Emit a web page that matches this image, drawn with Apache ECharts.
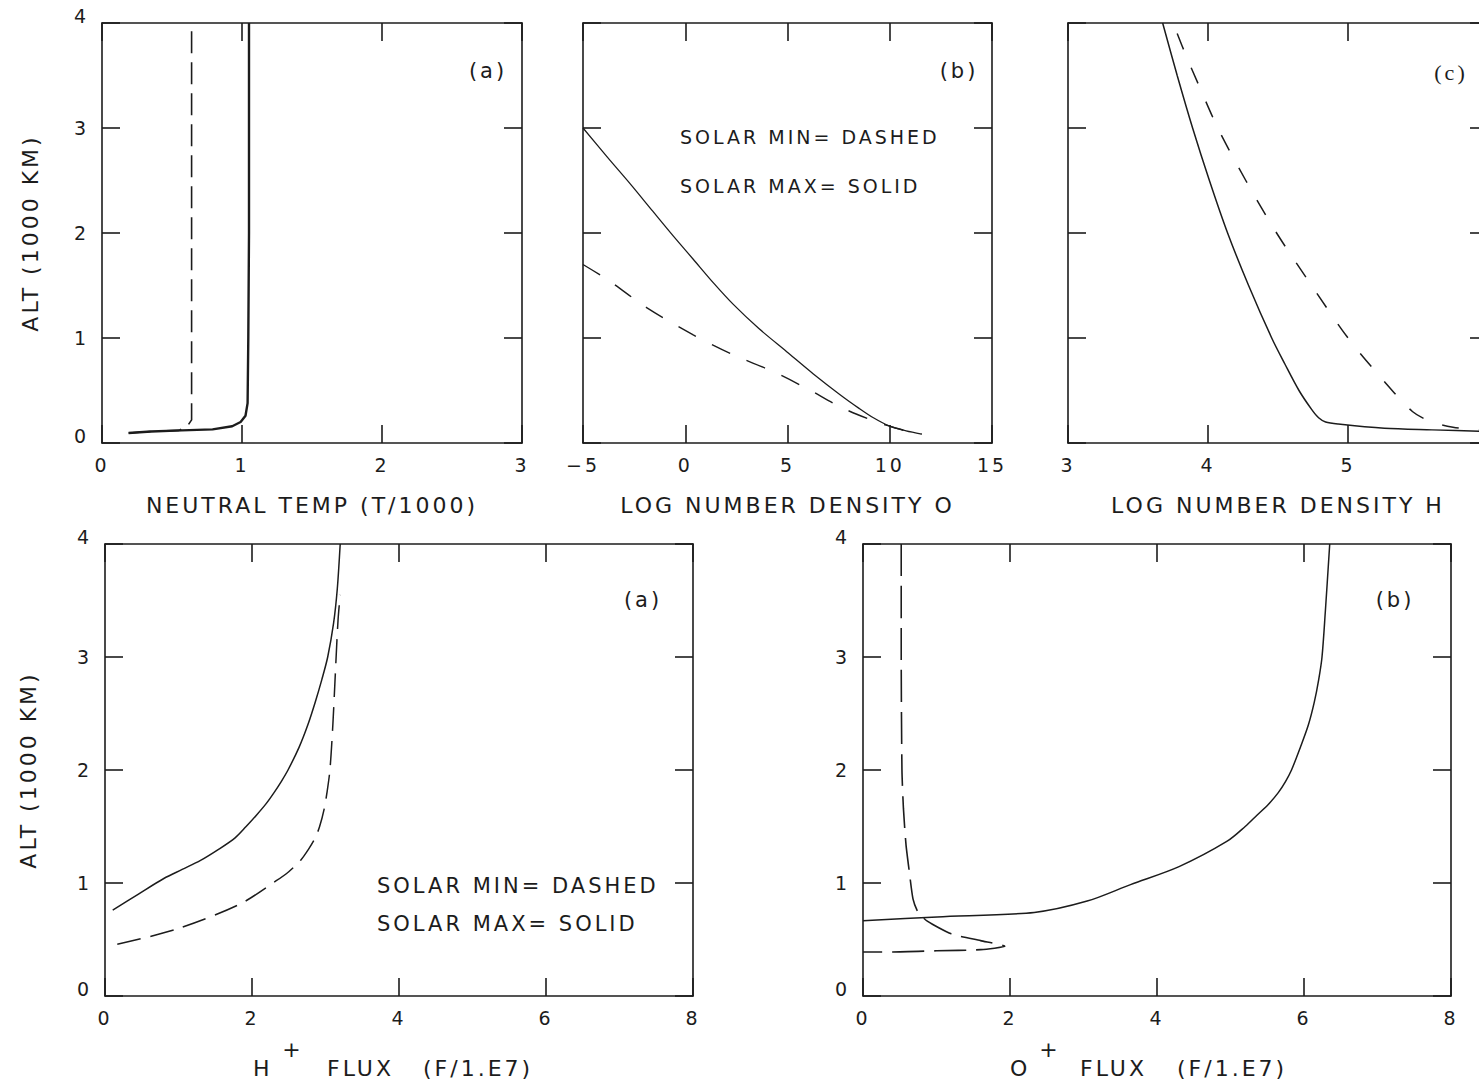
<!DOCTYPE html>
<html>
<head>
<meta charset="utf-8">
<script src="https://cdn.jsdelivr.net/npm/echarts@6/dist/echarts.min.js"></script>
<style>
  html, body { margin: 0; padding: 0; background: #fff; }
  #chart { width: 1479px; height: 1085px; }
  /* wide plotter-style lettering */
  #chart text { letter-spacing: 3px; }
</style>
</head>
<body>
<div id="chart"></div>
<script>
// Altitude profiles of the upper atmosphere: solar minimum (dashed) vs solar maximum (solid)

// ---- tick labels ----
const altTicks   = ['0', '1', '2', '3', '4'];
const tempTicks  = ['0', '1', '2', '3'];
const oDensTicks = ['\u22125', '0', '5', '10', '15'];
const hDensTicks = ['3', '4', '5', '6'];
const fluxTicks  = ['0', '2', '4', '6', '8'];

// ---- (a) neutral temperature, T/1000 vs altitude (1000 km) ----
const tempMax = [[0.19,0.095],[0.35,0.11],[0.57,0.12],[0.79,0.13],[0.93,0.16],[0.99,0.2],[1.025,0.26],[1.04,0.38],[1.045,1.0],[1.05,2.0],[1.05,3.0],[1.05,4.0]];
const tempMin = [[0.19,0.095],[0.35,0.11],[0.55,0.12],[0.61,0.16],[0.64,0.22],[0.64,1.0],[0.64,2.0],[0.64,3.0],[0.64,4.0]];

// ---- (b) log number density of O ----
const oDensMax = [[-5,3.0],[-3.8,2.72],[-2.7,2.47],[-1.6,2.21],[-0.58,1.97],[0.39,1.75],[1.4,1.52],[2.35,1.32],[3.6,1.09],[4.96,0.87],[6.25,0.66],[7.57,0.46],[8.5,0.33],[9.2,0.24],[10.0,0.16],[10.8,0.115],[11.56,0.085]];
const oDensMin = [[-5,1.7],[-3.76,1.55],[-1.89,1.29],[0.39,1.03],[2.35,0.84],[4.3,0.68],[5.94,0.52],[7.73,0.33],[9.36,0.2],[10.0,0.16],[10.8,0.115],[11.56,0.085]];

// ---- (c) log number density of H ----
const hDensMax = [[3.676,4.0],[3.78,3.5],[3.89,3.0],[4.01,2.5],[4.14,2.0],[4.29,1.5],[4.455,1.0],[4.55,0.75],[4.65,0.5],[4.74,0.32],[4.79,0.24],[4.84,0.2],[4.93,0.18],[5.26,0.14],[5.6,0.125],[6.0,0.11]];
const hDensMin = [[3.78,3.9],[3.84,3.7],[3.93,3.42],[4.07,3.0],[4.27,2.5],[4.49,2.0],[4.74,1.5],[5.0,1.0],[5.25,0.6],[5.46,0.3],[5.6,0.2],[5.75,0.15],[5.9,0.13],[6.0,0.12]];

// ---- H+ flux (F/1.E7) ----
const hFluxMax = [[0.105,0.76],[0.45,0.9],[0.8,1.04],[1.05,1.12],[1.3,1.2],[1.55,1.3],[1.77,1.4],[1.92,1.5],[2.06,1.6],[2.19,1.7],[2.3,1.8],[2.4,1.9],[2.49,2.0],[2.64,2.2],[2.76,2.4],[2.86,2.6],[2.95,2.8],[3.03,3.0],[3.11,3.3],[3.16,3.6],[3.2,4.0]];
const hFluxMin = [[0.167,0.458],[0.95,0.587],[1.825,0.81],[2.33,1.02],[2.5,1.1],[2.66,1.2],[2.77,1.3],[2.86,1.4],[2.92,1.5],[2.98,1.65],[3.02,1.8],[3.06,2.0],[3.1,2.4],[3.13,2.8],[3.17,3.32],[3.2,3.55]];

// ---- O+ flux (F/1.E7) ----
const oFluxMax = [[0,0.666],[1.01,0.7],[2.33,0.74],[3.05,0.84],[3.64,0.986],[4.3,1.145],[4.955,1.37],[5.2,1.5],[5.36,1.6],[5.52,1.7],[5.65,1.8],[5.75,1.9],[5.83,2.0],[5.95,2.2],[6.06,2.4],[6.14,2.6],[6.2,2.8],[6.245,3.0],[6.29,3.4],[6.35,4.0]];
const oFluxMin = [[0.52,4.0],[0.52,3.0],[0.53,2.0],[0.55,1.66],[0.585,1.34],[0.63,1.1],[0.68,0.86],[0.75,0.74],[0.88,0.66],[1.2,0.55],[1.6,0.49],[1.93,0.44],[1.6,0.41],[1.0,0.4],[0.4,0.39],[0.0,0.39]];

const INK = '#1c1c1c';
const FONT = 'DejaVu Sans';

function tickText(ticks, min, step) {
  return function (v) {
    const t = ticks[Math.round((v - min) / step)];
    return t === undefined ? '' : t;
  };
}

const panels = [
  { grid: { left: 102, top: 23, width: 420, height: 420 },
    x: { min: 0, max: 3, step: 1, ticks: tempTicks, name: 'NEUTRAL TEMP (T/1000)' },
    yLabels: true, yName: 'ALT (1000 KM)', yNameGap: 61, xNameGap: 51,
    series: [
      { data: tempMax, width: 2.4, dash: 'solid', smooth: false },
      { data: tempMin, width: 1.6, dash: [22, 9], smooth: false } ] },
  { grid: { left: 583, top: 23, width: 409, height: 420 },
    x: { min: -5, max: 15, step: 5, ticks: oDensTicks, name: 'LOG NUMBER DENSITY O' },
    yLabels: false, xNameGap: 51,
    series: [
      { data: oDensMax, width: 1.3, dash: 'solid', smooth: 0.3 },
      { data: oDensMin, width: 1.4, dash: [20, 18], smooth: 0.3 } ] },
  { grid: { left: 1068, top: 23, width: 420, height: 420 },
    x: { min: 3, max: 6, step: 1, ticks: hDensTicks, name: 'LOG NUMBER DENSITY H' },
    yLabels: false, xNameGap: 51,
    series: [
      { data: hDensMax, width: 1.5, dash: 'solid', smooth: 0.3 },
      { data: hDensMin, width: 1.5, dash: [17, 20], smooth: 0.3 } ] },
  { grid: { left: 105, top: 544, width: 588, height: 452 },
    x: { min: 0, max: 8, step: 2, ticks: fluxTicks, name: '' },
    yLabels: true, yName: 'ALT (1000 KM)', yNameGap: 66,
    series: [
      { data: hFluxMax, width: 1.5, dash: 'solid', smooth: 0.3 },
      { data: hFluxMin, width: 1.5, dash: [24, 10], smooth: 0.3 } ] },
  { grid: { left: 863, top: 544, width: 588, height: 452 },
    x: { min: 0, max: 8, step: 2, ticks: fluxTicks, name: '' },
    yLabels: true, yName: '',
    series: [
      { data: oFluxMax, width: 1.5, dash: 'solid', smooth: 0.3 },
      { data: oFluxMin, width: 1.6, dash: [32, 10], smooth: 0.2 } ] }
];

const frameLine = { show: true, onZero: false, lineStyle: { color: INK, width: 1.6 } };
const innerTick = { show: true, inside: true, length: 18, lineStyle: { color: INK, width: 1.6 } };
const labelBase = { color: INK, fontFamily: FONT, fontSize: 19 };

const grids = [], xAxes = [], yAxes = [], series = [];

panels.forEach((p, g) => {
  // the right-hand panel runs past the page edge, so keep the grid as given
  grids.push(Object.assign({ outerBoundsMode: 'none', containLabel: false }, p.grid));
  const xCommon = { gridIndex: g, type: 'value', min: p.x.min, max: p.x.max, interval: p.x.step,
    axisLine: frameLine, axisTick: innerTick, splitLine: { show: false } };
  xAxes.push(Object.assign({}, xCommon, {
    position: 'bottom',
    axisLabel: Object.assign({ margin: 12, formatter: tickText(p.x.ticks, p.x.min, p.x.step) }, labelBase),
    name: p.x.name, nameLocation: 'middle', nameGap: p.xNameGap || 50,
    nameTextStyle: { color: INK, fontFamily: FONT, fontSize: 22 }
  }));
  xAxes.push(Object.assign({}, xCommon, { position: 'top', axisLabel: { show: false } }));

  const yCommon = { gridIndex: g, type: 'value', min: 0, max: 4, interval: 1,
    axisLine: frameLine, axisTick: innerTick, splitLine: { show: false } };
  const altText = tickText(altTicks, 0, 1);
  yAxes.push(Object.assign({}, yCommon, {
    position: 'left',
    axisLabel: Object.assign({
      show: p.yLabels, margin: 13,
      // end labels sit a little above their ticks
      formatter: v => (v === 0 || v === 4) ? '{e|' + altText(v) + '}' : altText(v),
      rich: { e: Object.assign({ padding: [0, 0, 15, 0] }, labelBase) }
    }, labelBase),
    name: p.yName || '', nameLocation: 'middle', nameGap: p.yNameGap || 60,
    nameTextStyle: { color: INK, fontFamily: FONT, fontSize: 22 }
  }));
  yAxes.push(Object.assign({}, yCommon, { position: 'right', axisLabel: { show: false } }));

  p.series.forEach(s => {
    series.push({
      type: 'line', xAxisIndex: 2 * g, yAxisIndex: 2 * g,
      data: s.data, showSymbol: false, smooth: s.smooth, silent: true,
      lineStyle: { color: INK, width: s.width, type: s.dash }
    });
  });
});

function label(text, x, y, size, opts) {
  opts = opts || {};
  const align = opts.align || 'left';
  return {
    type: 'text', x: x, y: y, silent: true,
    style: {
      text: text, fill: INK,
      font: (size) + 'px "' + (opts.family || FONT) + '"',
      align: align, verticalAlign: 'middle',
      textAlign: align, textVerticalAlign: 'middle'
    }
  };
}

const graphics = [
  label('(a)', 488, 71, 21, { align: 'center' }),
  label('(b)', 959, 71, 21, { align: 'center' }),
  label('(c)', 1451, 72, 22, { align: 'center', family: 'Liberation Serif' }),
  label('(a)', 643, 600, 21, { align: 'center' }),
  label('(b)', 1395, 600, 21, { align: 'center' }),
  label('SOLAR MIN= DASHED', 680, 137, 19),
  label('SOLAR MAX= SOLID', 680, 186, 19),
  label('SOLAR MIN= DASHED', 377, 886, 21),
  label('SOLAR MAX= SOLID', 377, 924, 21),
  // flux axis titles with raised ion charge
  label('H', 253, 1068, 22),
  label('+', 293, 1049, 22, { align: 'center' }),
  label('FLUX', 327, 1068, 22),
  label('(F/1.E7)', 423, 1068, 22),
  label('O', 1010, 1068, 22),
  label('+', 1050, 1049, 22, { align: 'center' }),
  label('FLUX', 1080, 1068, 22),
  label('(F/1.E7)', 1177, 1068, 22)
];

const chart = echarts.init(document.getElementById('chart'), null, { renderer: 'svg' });
chart.setOption({
  backgroundColor: '#ffffff',
  animation: false,
  grid: grids,
  xAxis: xAxes,
  yAxis: yAxes,
  series: series,
  graphic: graphics
});
</script>
</body>
</html>
